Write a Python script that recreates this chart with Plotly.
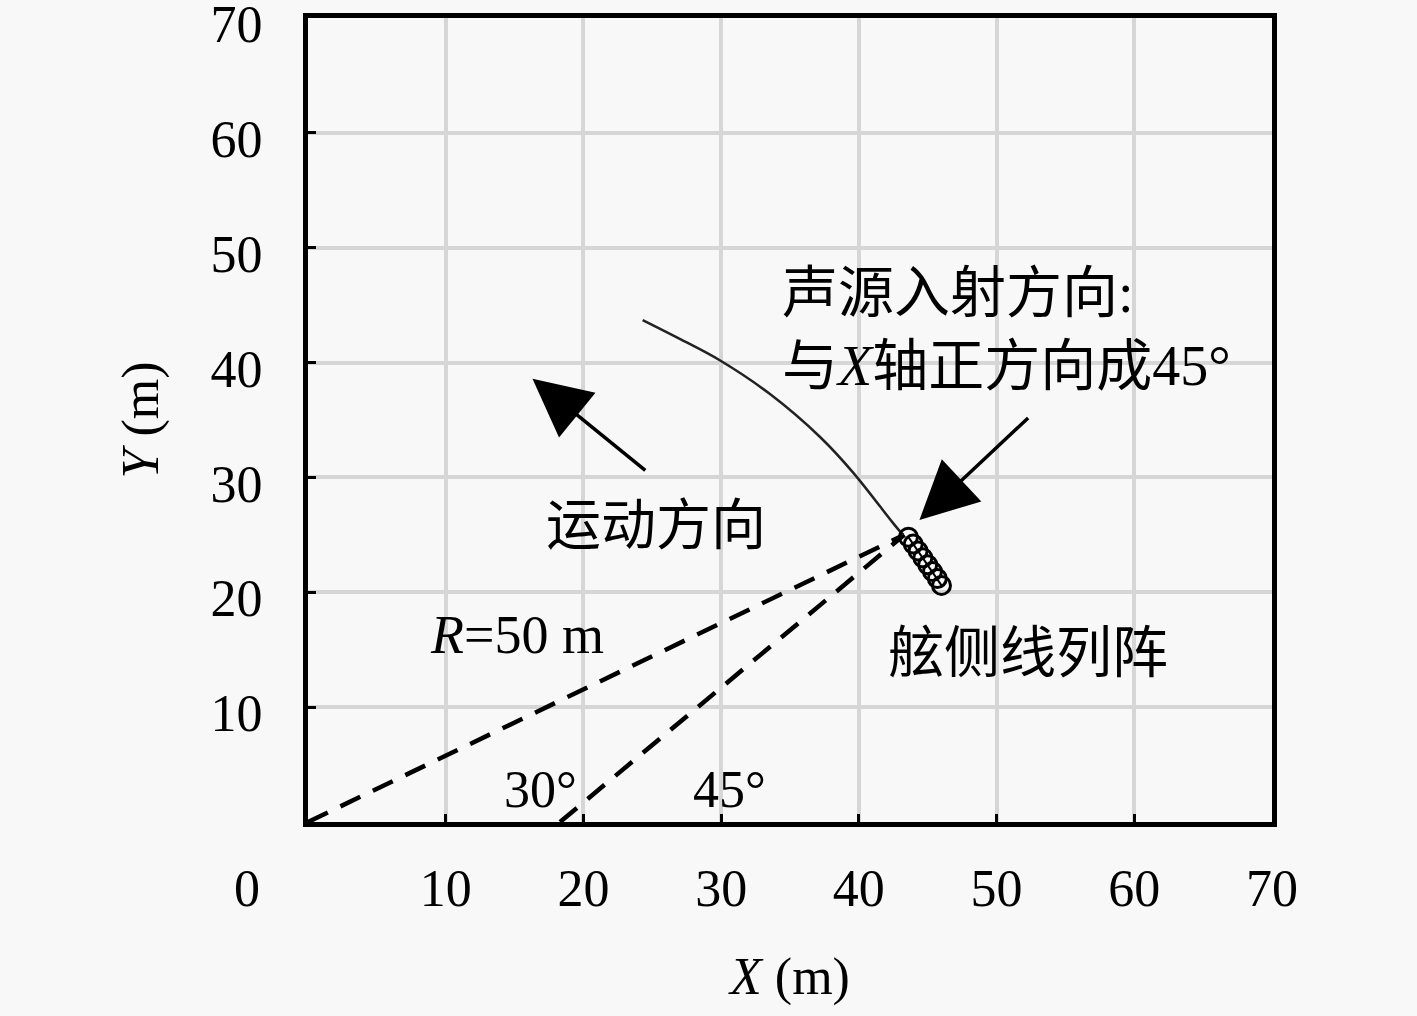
import plotly.graph_objects as go

# axis ticks
tick_vals = [10, 20, 30, 40, 50, 60, 70]
tick_text = ["10", "20", "30", "40", "50", "60", "70"]

# 30 deg line, R = 50 m from origin to the array
line30_x = [0.0, 43.3]
line30_y = [0.0, 25.0]
# 45 deg line
line45_x = [18.3, 43.3]
line45_y = [0.0, 25.0]

# track of the towed array
track_x = [24.3, 27.1, 29.9, 33.5, 37.2, 39.6, 42.5, 43.2]
track_y = [43.7, 42.0, 40.2, 37.3, 33.5, 30.4, 26.0, 25.0]

# coil loops of the line array
coil_x = [43.6, 43.95, 44.3, 44.65, 45.0, 45.35, 45.7, 46.0]
coil_y = [24.8, 24.2, 23.6, 23.0, 22.4, 21.8, 21.2, 20.6]

FONT = "Liberation Serif, Noto Sans CJK SC"
CJK = "Noto Sans CJK SC"
BG = "#f8f8f8"

fig = go.Figure()

fig.add_trace(go.Scatter(x=line30_x, y=line30_y, mode="lines",
                         line=dict(color="black", width=4.5, dash="22px,14px")))
fig.add_trace(go.Scatter(x=line45_x, y=line45_y, mode="lines",
                         line=dict(color="black", width=4.5, dash="22px,14px")))
fig.add_trace(go.Scatter(x=track_x, y=track_y, mode="lines", line_shape="spline",
                         line=dict(color="#222222", width=2.5)))
fig.add_trace(go.Scatter(x=coil_x, y=coil_y, mode="lines+markers",
                         line=dict(color="black", width=2),
                         marker=dict(symbol="circle-open", size=18, color="black",
                                     line=dict(width=3))))

# arrows
fig.add_annotation(x=16.3, y=38.6, ax=24.6, ay=30.5, xref="x", yref="y",
                   axref="x", ayref="y", text="", showarrow=True,
                   arrowhead=2, arrowsize=3.3, arrowwidth=3.5, arrowcolor="black")
fig.add_annotation(x=44.4, y=26.3, ax=52.4, ay=35.3, xref="x", yref="y",
                   axref="x", ayref="y", text="", showarrow=True,
                   arrowhead=2, arrowsize=3.3, arrowwidth=3.5, arrowcolor="black")

# labels
fig.add_annotation(x=34.3, y=42.9, xref="x", yref="y", showarrow=False,
                   xanchor="left", align="left",
                   text="声源入射方向:<br>与<i>X</i>轴正方向成45°",
                   font=dict(family=FONT, size=56, color="black"))
fig.add_annotation(x=25.3, y=26.3, xref="x", yref="y", showarrow=False,
                   text="运动方向", font=dict(family=CJK, size=55, color="black"))
fig.add_annotation(x=15.2, y=16.3, xref="x", yref="y", showarrow=False,
                   text="<i>R</i>=50 m", font=dict(family=FONT, size=54, color="black"))
fig.add_annotation(x=52.3, y=15.2, xref="x", yref="y", showarrow=False,
                   text="舷侧线列阵", font=dict(family=CJK, size=56, color="black"))
fig.add_annotation(x=16.85, y=2.8, xref="x", yref="y", showarrow=False,
                   text="30°", font=dict(family=FONT, size=52, color="black"))
fig.add_annotation(x=30.6, y=2.8, xref="x", yref="y", showarrow=False,
                   text="45°", font=dict(family=FONT, size=52, color="black"))
# shared origin label
fig.add_annotation(x=-0.079, y=-0.121, xref="paper", yref="paper", showarrow=False,
                   text="0", font=dict(family=FONT, size=52, color="black"))

axis_common = dict(
    range=[0, 70], tickvals=tick_vals, ticktext=tick_text,
    showgrid=True, gridcolor="#d6d6d6", gridwidth=4,
    showline=True, linecolor="black", linewidth=5, mirror=True,
    ticks="inside", ticklen=8, tickwidth=3, tickcolor="black",
    zeroline=False, ticklabeloverflow="allow", automargin=False,
    tickfont=dict(family=FONT, size=52, color="black"),
)

fig.update_xaxes(**axis_common, ticklabelstandoff=17,
                 title=dict(text="<i>X</i> (m)", standoff=43,
                            font=dict(family=FONT, size=52, color="black")))
fig.update_yaxes(**axis_common, ticklabelstandoff=30, ticklabelshift=6,
                 title=dict(text="<i>Y</i> (m)", standoff=37,
                            font=dict(family=FONT, size=52, color="black")))

fig.update_layout(
    width=1417, height=1016,
    margin=dict(l=308, r=145, t=18, b=194),
    paper_bgcolor=BG, plot_bgcolor=BG,
    showlegend=False,
)

fig.write_html("out.html", config={"displayModeBar": False},
               post_script="document.body.style.margin='0';"
                           "document.body.style.background='#f8f8f8';")
